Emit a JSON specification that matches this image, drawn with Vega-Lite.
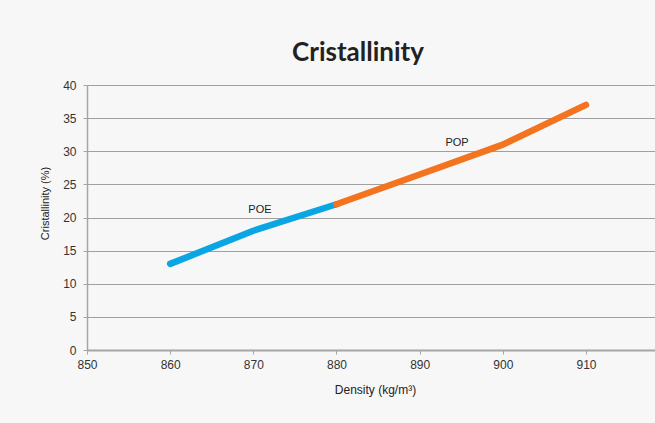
{
  "$schema": "https://vega.github.io/schema/vega-lite/v6.json",
  "autosize": {"type": "none"},
  "width": 568,
  "height": 265,
  "padding": {"left": 87, "top": 85, "right": 0, "bottom": 73},
  "background": "#f7f7f7",
  "title": {
    "text": "Cristallinity",
    "font": "Lato",
    "fontSize": 26,
    "fontWeight": "bold",
    "color": "#222222",
    "anchor": "middle",
    "dx": -13,
    "offset": 13
  },
  "config": {
    "view": {"stroke": null},
    "axis": {
      "labelFont": "Liberation Sans",
      "titleFont": "Liberation Sans",
      "labelColor": "#333333",
      "titleColor": "#222222",
      "labelFontSize": 12,
      "titleFontSize": 11,
      "titleFontWeight": "normal",
      "domainColor": "#a6a6a6",
      "tickColor": "#a6a6a6",
      "gridColor": "#a0a0a0",
      "tickSize": 4,
      "labelOverlap": false,
      "labelFlush": false
    }
  },
  "datasets": {
    "lines": [
      {"density": 860, "cryst": 13, "polymer": "POE"},
      {"density": 870, "cryst": 18, "polymer": "POE"},
      {"density": 880, "cryst": 22, "polymer": "POE"},
      {"density": 880, "cryst": 22, "polymer": "POP"},
      {"density": 890, "cryst": 26.5, "polymer": "POP"},
      {"density": 900, "cryst": 31, "polymer": "POP"},
      {"density": 910, "cryst": 37, "polymer": "POP"}
    ],
    "labels": [
      {"density": 870.8, "cryst": 21.1, "label": "POE"},
      {"density": 894.5, "cryst": 31.2, "label": "POP"}
    ]
  },
  "encoding": {
    "x": {
      "field": "density", "type": "quantitative",
      "scale": {"domain": [850, 918.3], "nice": false, "zero": false},
      "axis": {
        "title": "Density (kg/m³)",
        "titleFontSize": 12,
        "values": [850, 860, 870, 880, 890, 900, 910],
        "grid": false,
        "domainWidth": 2,
        "labelPadding": 5,
        "titlePadding": 14,
        "titleX": 288
      }
    },
    "y": {
      "field": "cryst", "type": "quantitative",
      "scale": {"domain": [0, 40], "nice": false},
      "axis": {
        "title": "Cristallinity (%)",
        "values": [0, 5, 10, 15, 20, 25, 30, 35, 40],
        "domainWidth": 1.5,
        "labelPadding": 7,
        "titlePadding": 12,
        "titleY": 118
      }
    }
  },
  "layer": [
    {
      "data": {"name": "lines"},
      "mark": {"type": "line", "strokeWidth": 6.5, "strokeCap": "round", "strokeJoin": "round"},
      "encoding": {
        "color": {
          "field": "polymer", "type": "nominal",
          "scale": {"domain": ["POE", "POP"], "range": ["#0aa6e4", "#f4731f"]},
          "legend": null
        }
      }
    },
    {
      "data": {"name": "labels"},
      "mark": {"type": "text", "font": "Liberation Sans", "fontSize": 11, "color": "#222222"},
      "encoding": {
        "text": {"field": "label"}
      }
    }
  ]
}
